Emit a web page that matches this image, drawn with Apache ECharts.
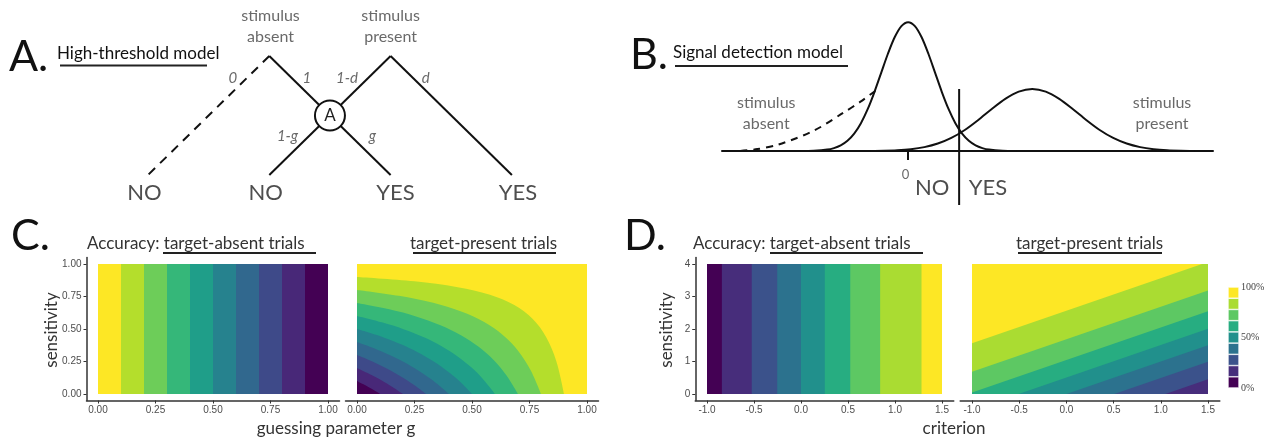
<!DOCTYPE html>
<html><head><meta charset="utf-8">
<script src="https://cdn.jsdelivr.net/npm/echarts@6/dist/echarts.min.js"></script>
<style>html,body{margin:0;padding:0;background:#fff}#c{width:1271px;height:443px}</style>
</head><body><div id="c"></div>
<script>
// ---------------- DATA ----------------
// Panel A: high-threshold tree (diagram units: column, level)
const treeEdgesSolid = [
  [[1, 2], [1.5, 1]], [[2, 2], [1.5, 1]], [[2, 2], [3, 0]],
  [[1.5, 1], [1, 0]], [[1.5, 1], [2, 0]]
];
const treeEdgesDashed = [[[1, 2], [0, 0]]];
const treeStateNode = [[1.5, 1, 'A']];
const treeEdgeLabels = [['0', 0.70, 1.63], ['1', 1.31, 1.63], ['1-d', 1.64, 1.63], ['d', 2.29, 1.63], ['1-g', 1.15, 0.66], ['g', 1.85, 0.66]];
const treeLeafLabels = [['NO', -0.03, -0.30], ['NO', 0.97, -0.30], ['YES', 2.04, -0.30], ['YES', 3.05, -0.30]];
const treeStimLabels = [['stimulus\nabsent', 1.01, 2.5], ['stimulus\npresent', 2.0, 2.5]];

// Panel B: signal detection curves (x in noise SD units, y density)
const noiseCurve = [[-4,0.0001],[-3.5,0.0009],[-3,0.0044],[-2.75,0.0091],[-2.5,0.0175],[-2.25,0.0317],[-2,0.054],[-1.75,0.0863],[-1.5,0.1295],[-1.25,0.1826],[-1,0.242],[-0.75,0.3011],[-0.5,0.3521],[-0.25,0.3867],[0,0.3989],[0.25,0.3867],[0.5,0.3521],[0.75,0.3011],[1,0.242],[1.25,0.1826],[1.5,0.1295],[1.75,0.0863],[2,0.054],[2.25,0.0317],[2.5,0.0175],[2.75,0.0091],[3,0.0044],[3.5,0.0009],[4,0.0001]];
const signalCurve = [[-1.4,0.0004],[-0.9,0.001],[-0.4,0.0025],[0.1,0.0058],[0.6,0.0121],[1.1,0.0231],[1.6,0.0405],[2.1,0.0651],[2.6,0.0961],[3.1,0.1301],[3.6,0.1615],[4.1,0.1839],[4.6,0.192],[5.1,0.1839],[5.6,0.1615],[6.1,0.1301],[6.6,0.0961],[7.1,0.0651],[7.6,0.0405],[8.1,0.0231],[8.6,0.0121],[9.1,0.0058],[9.6,0.0025],[10.1,0.001],[10.6,0.0004]];
const absentTail = [[-6.22,0],[-5.59,0.006],[-4.85,0.019],[-3.52,0.062],[-2.41,0.118],[-1.78,0.152],[-1.22,0.186]];
const criterionLine = [[1.89, 0.192], [1.89, -0.167]];
const sdtTicks = [0];
const sdtTickLabels = ['0'];
const sdtResponseLabels = [['NO', 0.89, -0.115], ['YES', 2.96, -0.115]];
const sdtStimLabels = [['stimulus\nabsent', -5.26, 0.116], ['stimulus\npresent', 9.41, 0.116]];

// Panel C: high-threshold accuracy (10 bands of 10%)
const viridis10 = ['#440154','#482878','#3E4A89','#31688E','#26828E','#1F9E89','#35B779','#6DCD59','#B4DE2C','#FDE725'];
const cTicks = [0, 0.25, 0.5, 0.75, 1];
const cTickLabels = ['0.00', '0.25', '0.50', '0.75', '1.00'];
// target-absent: region "accuracy < k/10" starts at this g (k = 10 .. 1)
const cAbsentLeftEdges = [0, 0.1, 0.2, 0.3, 0.4, 0.5, 0.6, 0.7, 0.8, 0.9];
// target-present: boundary curves below which accuracy < k/10 (k = 10 .. 1)
const cPresentRegions = [
  [[0,1],[1,1]],
  [[0,0.9],[0.25,0.867],[0.438,0.822],[0.578,0.763],[0.684,0.684],[0.763,0.578],[0.822,0.438],[0.867,0.25],[0.9,0]],
  [[0,0.8],[0.182,0.755],[0.331,0.701],[0.453,0.634],[0.553,0.553],[0.634,0.453],[0.701,0.331],[0.755,0.182],[0.8,0]],
  [[0,0.7],[0.14,0.651],[0.26,0.595],[0.363,0.529],[0.452,0.452],[0.529,0.363],[0.595,0.26],[0.651,0.14],[0.7,0]],
  [[0,0.6],[0.108,0.551],[0.205,0.497],[0.291,0.436],[0.368,0.368],[0.436,0.291],[0.497,0.205],[0.551,0.108],[0.6,0]],
  [[0,0.5],[0.083,0.455],[0.159,0.405],[0.229,0.352],[0.293,0.293],[0.352,0.229],[0.405,0.159],[0.455,0.083],[0.5,0]],
  [[0,0.4],[0.062,0.36],[0.12,0.318],[0.174,0.273],[0.225,0.225],[0.273,0.174],[0.318,0.12],[0.36,0.062],[0.4,0]],
  [[0,0.3],[0.044,0.268],[0.085,0.235],[0.125,0.2],[0.163,0.163],[0.2,0.125],[0.235,0.085],[0.268,0.044],[0.3,0]],
  [[0,0.2],[0.054,0.154],[0.106,0.106],[0.154,0.054],[0.2,0]],
  [[0,0.1],[0.026,0.076],[0.051,0.051],[0.076,0.026],[0.1,0]]
];

// Panel D: signal detection accuracy (9 bands)
const viridis9 = ['#440154','#472D7B','#3B528B','#2C728E','#21908C','#27AD81','#5DC863','#AADC32','#FDE725'];
const dXTicks = [-1, -0.5, 0, 0.5, 1, 1.5];
const dXTickLabels = ['-1.0', '-0.5', '0.0', '0.5', '1.0', '1.5'];
const dYTicks = [0, 1, 2, 3, 4];
const dYTickLabels = ['0', '1', '2', '3', '4'];
// target-absent: region "accuracy < k/10" ends at this criterion (k = 10 .. 2)
const dAbsentRightEdges = [1.5, 1.282, 0.842, 0.524, 0.253, 0, -0.253, -0.524, -0.842];
// target-present: boundary lines below which accuracy < k/10 (k = 10 .. 3)
const dPresentRegions = [
  [[-1,4],[1.5,4]],
  [[-1,1.563],[1.437,4],[1.5,4]],
  [[-1,0.683],[1.5,3.183]],
  [[-1,0.049],[1.5,2.549]],
  [[-0.507,0],[1.5,2.007]],
  [[0,0],[1.5,1.5]],
  [[0.507,0],[1.5,0.993]],
  [[1.049,0],[1.5,0.451]]
];
// legend
const legendSteps = [1,1,1,1,1,1,1,1,1];
const legendTicks = [0, 4.5, 9];
const legendTickLabels = ['0%', '50%', '100%'];

// ---------------- CHART ----------------
const FONT = 'Lato';
const chart = echarts.init(document.getElementById('c'), null, {renderer: 'canvas'});

function gridBox(left, top, width, height) {
  return {left, top, width, height, outerBoundsMode: 'none', containLabel: false};
}
const grids = [
  gridBox(26.7, 2.45, 606.5, 202.3),   // 0 A
  gridBox(722, 5.65, 491, 210),        // 1 B
  gridBox(86.5, 257.5, 253, 143),      // 2 C left
  gridBox(345.5, 257.5, 253, 143),     // 3 C right
  gridBox(695.25, 257.5, 258.5, 143),  // 4 D left
  gridBox(960.2, 257.5, 259.6, 143),   // 5 D right
  gridBox(1228, 287, 11, 101)          // 6 legend
];

function hiddenAxis(gi, min, max) {
  return {gridIndex: gi, type: 'value', min, max, show: false};
}
function plotXAxis(gi, min, max, ticks, labels) {
  return {
    gridIndex: gi, type: 'value', min, max,
    axisLine: {show: true, onZero: false, lineStyle: {color: '#333', width: 1.5}},
    axisTick: {show: true, customValues: ticks, length: 3, lineStyle: {color: '#333', width: 1}},
    axisLabel: {customValues: ticks, formatter: v => labels[ticks.indexOf(v)],
      color: '#4d4d4d', fontSize: 10, fontFamily: 'Liberation Sans', margin: 5},
    splitLine: {show: false}
  };
}
function plotYAxis(gi, min, max, ticks, labels, visible) {
  return {
    gridIndex: gi, type: 'value', min, max,
    axisLine: {show: visible, onZero: false, lineStyle: {color: '#333', width: 1.5}},
    axisTick: {show: visible, customValues: ticks, length: 3, lineStyle: {color: '#333', width: 1}},
    axisLabel: {show: visible, customValues: ticks, formatter: v => labels[ticks.indexOf(v)],
      color: '#4d4d4d', fontSize: 10, fontFamily: 'Liberation Sans', margin: 5},
    splitLine: {show: false}
  };
}

const xAxes = [
  hiddenAxis(0, -1, 4),
  {gridIndex: 1, type: 'value', min: -6.9, max: 11.3,
    axisLine: {show: true, onZero: true, lineStyle: {color: '#111', width: 2}},
    axisTick: {show: true, customValues: sdtTicks, length: 9, lineStyle: {color: '#111', width: 2}},
    axisLabel: {show: false},
    splitLine: {show: false}},
  plotXAxis(2, -0.05, 1.05, cTicks, cTickLabels),
  plotXAxis(3, -0.05, 1.05, cTicks, cTickLabels),
  plotXAxis(4, -1.125, 1.625, dXTicks, dXTickLabels),
  plotXAxis(5, -1.125, 1.625, dXTicks, dXTickLabels),
  {gridIndex: 6, type: 'category', data: ['fill'], show: false}
];
const yAxes = [
  hiddenAxis(0, -0.5, 2.9),
  hiddenAxis(1, -0.2, 0.45),
  plotYAxis(2, -0.05, 1.05, cTicks, cTickLabels, true),
  plotYAxis(3, -0.05, 1.05, cTicks, cTickLabels, false),
  plotYAxis(4, -0.2, 4.2, dYTicks, dYTickLabels, true),
  plotYAxis(5, -0.2, 4.2, dYTicks, dYTickLabels, false),
  {gridIndex: 6, type: 'value', min: 0, max: 9, position: 'right',
    axisLine: {show: false}, axisTick: {show: false}, splitLine: {show: false},
    axisLabel: {customValues: legendTicks, formatter: v => legendTickLabels[legendTicks.indexOf(v)],
      color: '#444', fontSize: 10, fontFamily: 'Liberation Serif', margin: 2}}
];

const series = [];
function region(gi, pts, color, smooth) {
  series.push({
    type: 'line', xAxisIndex: gi, yAxisIndex: gi, data: pts,
    symbol: 'none', showSymbol: false, smooth: smooth ? 0.35 : false,
    lineStyle: {width: 0, opacity: 0}, areaStyle: {color, opacity: 1},
    silent: true, clip: true, z: 2
  });
}
function textPoints(gi, items, style, z) {
  series.push({
    type: 'scatter', xAxisIndex: gi, yAxisIndex: gi,
    data: items.map(d => ({value: [d[1], d[2]], name: d[0]})),
    symbolSize: 1, itemStyle: {color: 'transparent'}, silent: true, z: z || 5,
    label: Object.assign({show: true, position: 'inside', formatter: '{b}', fontFamily: FONT}, style)
  });
}

// Panel A
series.push({type: 'lines', coordinateSystem: 'cartesian2d', xAxisIndex: 0, yAxisIndex: 0,
  data: treeEdgesSolid.map(c => ({coords: c})), lineStyle: {color: '#111', width: 2, opacity: 1}, silent: true, z: 2});
series.push({type: 'lines', coordinateSystem: 'cartesian2d', xAxisIndex: 0, yAxisIndex: 0,
  data: treeEdgesDashed.map(c => ({coords: c})), lineStyle: {color: '#111', width: 2, type: [9, 7], opacity: 1}, silent: true, z: 2});
series.push({type: 'scatter', xAxisIndex: 0, yAxisIndex: 0,
  data: treeStateNode.map(d => ({value: [d[0], d[1]], name: d[2]})),
  symbolSize: 30, itemStyle: {color: '#fff', borderColor: '#111', borderWidth: 2, opacity: 1}, z: 6, silent: true,
  label: {show: true, position: 'inside', formatter: '{b}', color: '#222', fontSize: 17, fontFamily: FONT}});
textPoints(0, treeEdgeLabels, {color: '#444', fontSize: 15, fontStyle: 'italic'});
textPoints(0, treeLeafLabels, {color: '#222', fontSize: 22});
textPoints(0, treeStimLabels, {color: '#444', fontSize: 16, lineHeight: 21});

// Panel B
function curve(data, dashed) {
  series.push({type: 'line', xAxisIndex: 1, yAxisIndex: 1, data, symbol: 'none', showSymbol: false,
    smooth: 0.3, lineStyle: {color: '#111', width: 2, type: dashed ? [7, 6] : 'solid'}, silent: true, z: 3});
}
curve(noiseCurve, false);
curve(signalCurve, false);
curve(absentTail, true);
series.push({type: 'line', xAxisIndex: 1, yAxisIndex: 1, data: criterionLine, symbol: 'none',
  lineStyle: {color: '#111', width: 2}, silent: true, z: 3});
// tick label of the SDT axis, drawn just below its tick
textPoints(1, sdtTicks.map((v, i) => [sdtTickLabels[i], v - 0.1, -0.074]), {color: '#444', fontSize: 13});
textPoints(1, sdtResponseLabels, {color: '#222', fontSize: 22});
textPoints(1, sdtStimLabels, {color: '#444', fontSize: 16, lineHeight: 21});

// Panel C
cAbsentLeftEdges.forEach((g, i) => region(2, [[g, 1], [1, 1]], viridis10[9 - i], false));
cPresentRegions.forEach((pts, i) => region(3, pts, viridis10[9 - i], true));

// Panel D
dAbsentRightEdges.forEach((c, i) => region(4, [[-1, 4], [c, 4]], viridis9[8 - i], false));
dPresentRegions.forEach((pts, i) => region(5, pts, viridis9[8 - i], false));

// Legend
legendSteps.forEach((v, i) => series.push({
  type: 'bar', xAxisIndex: 6, yAxisIndex: 6, stack: 'legend', data: [v], barWidth: '100%',
  itemStyle: {color: viridis9[i], borderColor: '#fff', borderWidth: 0.6}, silent: true
}));

// Text decorations
function txt(text, x, y, size, opts) {
  return Object.assign({type: 'text', x, y, silent: true,
    style: Object.assign({text, fontSize: size, fontFamily: FONT, fill: '#222', align: 'left', verticalAlign: 'middle'}, opts || {})});
}
function rule(x1, x2, y) {
  return {type: 'line', silent: true, shape: {x1, y1: y, x2, y2: y}, style: {stroke: '#222', lineWidth: 2}};
}
const graphic = [
  txt('A.', 9, 57, 43, {fill: '#111'}),
  txt('B.', 630, 55, 43, {fill: '#111'}),
  txt('C.', 11, 236, 43, {fill: '#111'}),
  txt('D.', 624, 236, 43, {fill: '#111'}),
  txt('High-threshold model', 57, 54, 17, {fill: '#111'}),
  rule(60, 207, 65.5),
  txt('Signal detection model', 673, 53, 17, {fill: '#111'}),
  rule(675, 848, 66),
  txt('Accuracy: target-absent trials', 87, 243.5, 17, {fill: '#333'}),
  rule(163, 316, 253),
  txt('target-present trials', 483.5, 243.5, 17, {fill: '#333', align: 'center'}),
  rule(413, 556, 253),
  txt('Accuracy: target-absent trials', 693, 243.5, 17, {fill: '#333'}),
  rule(770, 923, 253),
  txt('target-present trials', 1089.5, 243.5, 17, {fill: '#333', align: 'center'}),
  rule(1018, 1162, 253),
  Object.assign(txt('sensitivity', 0, 0, 17, {fill: '#333', align: 'center'}), {x: 52, y: 330, rotation: Math.PI / 2}),
  Object.assign(txt('sensitivity', 0, 0, 17, {fill: '#333', align: 'center'}), {x: 667, y: 330, rotation: Math.PI / 2}),
  txt('guessing parameter g', 336, 429, 17, {fill: '#333', align: 'center'}),
  txt('criterion', 954, 429, 17, {fill: '#333', align: 'center'})
];

chart.setOption({
  animation: false,
  backgroundColor: '#fff',
  textStyle: {fontFamily: FONT},
  grid: grids,
  xAxis: xAxes,
  yAxis: yAxes,
  series,
  graphic
});
</script></body></html>
